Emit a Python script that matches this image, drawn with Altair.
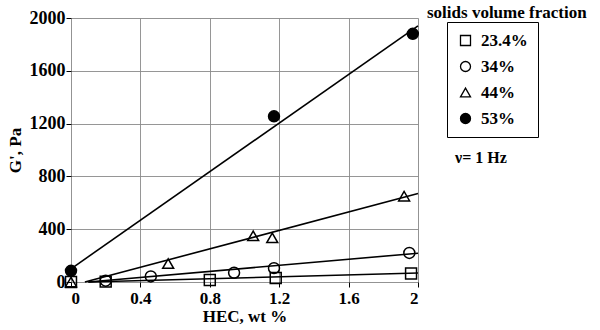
import altair as alt
import pandas as pd

# Storage modulus G' versus HEC concentration for four solids volume fractions
series = ["23.4%", "34%", "44%", "53%"]

sq_x = [0.0, 0.2, 0.8, 1.18, 1.96]
sq_y = [0, 3, 15, 30, 65]
ci_x = [0.2, 0.46, 0.94, 1.17, 1.95]
ci_y = [10, 42, 70, 105, 220]
tr_x = [0.0, 0.56, 1.05, 1.16, 1.92]
tr_y = [0, 140, 350, 335, 650]
fc_x = [0.0, 1.17, 1.97]
fc_y = [85, 1255, 1880]

# straight-line fits, one per series (start and end points)
fit_x0 = [0.1, 0.1, 0.08, 0.0]
fit_y0 = [0, 0, 0, 100]
fit_x1 = [2.0, 2.0, 2.0, 2.0]
fit_y1 = [68, 218, 670, 1940]

x_ticks = [0, 0.4, 0.8, 1.2, 1.6, 2]
y_ticks = [0, 400, 800, 1200, 1600, 2000]

FONT = "Liberation Serif"

rows = []
for name, xs, ys in zip(series, [sq_x, ci_x, tr_x, fc_x], [sq_y, ci_y, tr_y, fc_y]):
    for xv, yv in zip(xs, ys):
        rows.append({"series": name, "hec": xv, "g": yv})
points_df = pd.DataFrame(rows)

fit_rows = []
for name, a, b, c, d in zip(series, fit_x0, fit_y0, fit_x1, fit_y1):
    fit_rows.append({"series": name, "hec": a, "g": b})
    fit_rows.append({"series": name, "hec": c, "g": d})
fit_df = pd.DataFrame(fit_rows)

x_enc = alt.X(
    "hec:Q",
    scale=alt.Scale(domain=[0, 2], nice=False, zero=False),
    axis=alt.Axis(
        values=x_ticks, title="HEC,  wt %", format="~g",
        labelFont=FONT, labelFontWeight="bold", labelFontSize=17, labelColor="black",
        titleFont=FONT, titleFontWeight="bold", titleFontSize=17, titleColor="black",
        tickColor="black", tickSize=5, domain=False, labelPadding=3, titlePadding=2,
        gridColor="#8a8a8a", gridWidth=0.9,
    ),
)
y_enc = alt.Y(
    "g:Q",
    scale=alt.Scale(domain=[0, 2000], nice=False),
    axis=alt.Axis(
        values=y_ticks, title="G', Pa", format="d",
        labelFont=FONT, labelFontWeight="bold", labelFontSize=18, labelColor="black",
        titleFont=FONT, titleFontWeight="bold", titleFontSize=17, titleColor="black",
        tickColor="black", tickSize=5, domain=False, labelPadding=1, titlePadding=5,
        gridColor="#8a8a8a", gridWidth=0.9,
    ),
)

lines = alt.Chart(fit_df).mark_line(color="black", strokeWidth=1.6).encode(
    x=x_enc, y=y_enc, detail="series:N"
)

legend = alt.Legend(
    title=None, orient="none", legendX=376, legendY=4,
    strokeColor="black", padding=10, rowPadding=8,
    labelFont=FONT, labelFontWeight="bold", labelFontSize=17, labelColor="black",
    symbolStrokeWidth=1.3, symbolSize=100, labelOffset=7,
)

points = alt.Chart(points_df).mark_point(strokeWidth=1.5, size=120, opacity=1).encode(
    x="hec:Q",
    y="g:Q",
    shape=alt.Shape(
        "series:N",
        scale=alt.Scale(domain=series, range=["square", "circle", "triangle-up", "circle"]),
        legend=legend,
    ),
    fill=alt.Fill(
        "series:N",
        scale=alt.Scale(domain=series, range=["transparent", "transparent", "transparent", "black"]),
        legend=legend,
    ),
    stroke=alt.Stroke(
        "series:N",
        scale=alt.Scale(domain=series, range=["black", "black", "black", "black"]),
        legend=legend,
    ),
)

legend_title = alt.Chart(pd.DataFrame({"t": ["solids volume fraction"]})).mark_text(
    font=FONT, fontWeight="bold", fontSize=17, align="left", baseline="middle", color="black"
).encode(x=alt.value(356), y=alt.value(-5), text="t:N")

freq_note = alt.Chart(pd.DataFrame({"t": ["\u03bd= 1  Hz"]})).mark_text(
    font=FONT, fontWeight="bold", fontSize=16, align="left", baseline="middle", color="black"
).encode(x=alt.value(384), y=alt.value(140), text="t:N")

chart = (
    alt.layer(lines, points, legend_title, freq_note)
    .properties(
        width=347, height=264,
        autosize=alt.AutoSizeParams(type="none"),
        padding={"left": 71, "top": 18, "right": 182, "bottom": 48},
    )
    .configure_view(stroke="black", strokeWidth=1.5)
    .configure_legend(strokeWidth=1.5)
    .configure(background="white")
)

chart.save("out.html", embed_options={"renderer": "svg", "actions": False})
